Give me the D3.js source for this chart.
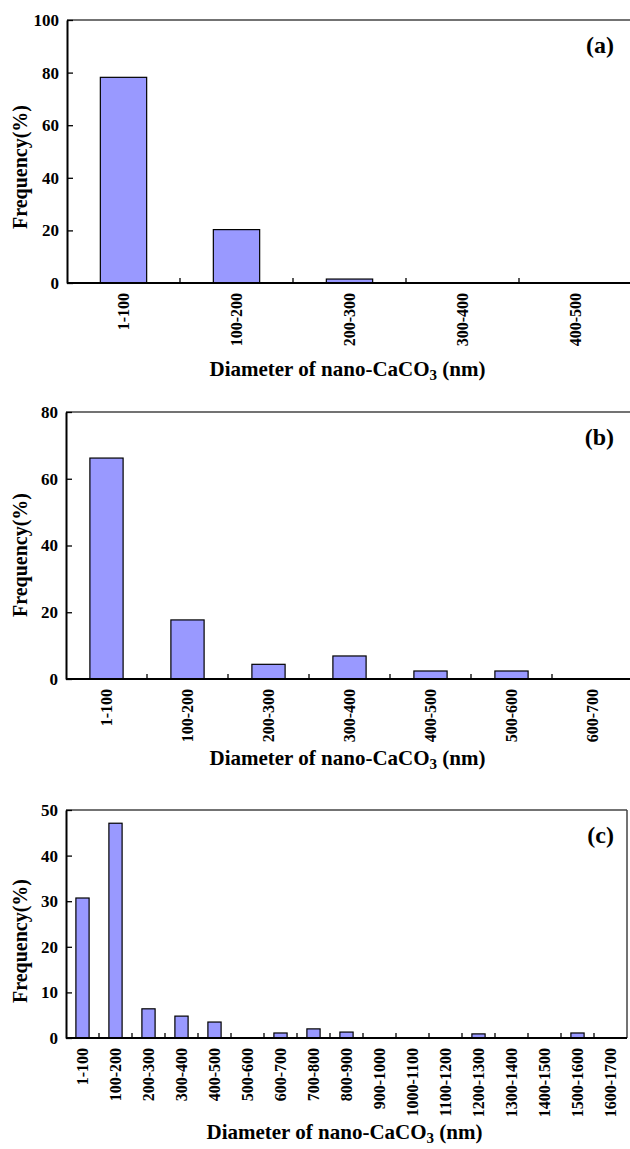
<!DOCTYPE html>
<html>
<head>
<meta charset="utf-8">
<script src="https://cdn.jsdelivr.net/npm/d3@7/dist/d3.min.js"></script>
<style>
  html, body { margin: 0; padding: 0; background: #fff; }
  svg { display: block; }
  text { font-family: "Liberation Serif", "Times New Roman", serif; font-weight: bold; fill: #000; }
</style>
</head>
<body>
<svg id="chart" width="630" height="1149"></svg>
<script>
// ---- Data ----
const categoriesA = ["1-100", "100-200", "200-300", "300-400", "400-500"];
const valuesA = [78.2, 20.3, 1.5, 0, 0];
const yTicksA = [0, 20, 40, 60, 80, 100];

const categoriesB = ["1-100", "100-200", "200-300", "300-400", "400-500", "500-600", "600-700"];
const valuesB = [66.2, 17.7, 4.4, 6.9, 2.4, 2.4, 0];
const yTicksB = [0, 20, 40, 60, 80];

const categoriesC = ["1-100", "100-200", "200-300", "300-400", "400-500", "500-600", "600-700",
  "700-800", "800-900", "900-1000", "1000-1100", "1100-1200", "1200-1300", "1300-1400",
  "1400-1500", "1500-1600", "1600-1700"];
const valuesC = [30.7, 47.1, 6.4, 4.8, 3.5, 0, 1.1, 2.0, 1.3, 0, 0, 0, 0.9, 0, 0, 1.1, 0];
const yTicksC = [0, 10, 20, 30, 40, 50];

const panelLabels = ["(a)", "(b)", "(c)"];
const xTitle = "Diameter of nano-CaCO";
const yTitle = "Frequency(%)";

// ---- Layout ----
const panels = [
  { cats: categoriesA, vals: valuesA, ticks: yTicksA, label: panelLabels[0],
    left: 67, right: 632, top: 20, bottom: 283, barRatio: 0.41, yTitleY: 167, xTitleY: 376 },
  { cats: categoriesB, vals: valuesB, ticks: yTicksB, label: panelLabels[1],
    left: 66, right: 633, top: 412, bottom: 679, barRatio: 0.41, yTitleY: 555, xTitleY: 765 },
  { cats: categoriesC, vals: valuesC, ticks: yTicksC, label: panelLabels[2],
    left: 66, right: 627, top: 810, bottom: 1038, barRatio: 0.40, yTitleY: 941, xTitleY: 1139 }
];

const svg = d3.select("#chart");

panels.forEach(p => {
  const g = svg.append("g");
  const x = d3.scaleBand().domain(p.cats).range([p.left, p.right]).padding(0);
  const y = d3.scaleLinear().domain([0, d3.max(p.ticks)]).range([p.bottom, p.top]);

  // frame (top & right)
  g.append("line").attr("x1", p.left).attr("x2", p.right).attr("y1", p.top).attr("y2", p.top)
    .attr("stroke", "#444").attr("stroke-width", 1.5);
  g.append("line").attr("x1", p.right).attr("x2", p.right).attr("y1", p.top).attr("y2", p.bottom)
    .attr("stroke", "#444").attr("stroke-width", 1.5);

  // bars
  const data = p.cats.map((c, i) => ({ c, v: p.vals[i] })).filter(d => d.v > 0);
  const bw = x.bandwidth() * p.barRatio;
  g.selectAll("rect.bar").data(data).enter().append("rect")
    .attr("class", "bar")
    .attr("x", d => x(d.c) + (x.bandwidth() - bw) / 2)
    .attr("width", bw)
    .attr("y", d => y(d.v))
    .attr("height", d => y(0) - y(d.v))
    .attr("fill", "#9999FF")
    .attr("stroke", "#000")
    .attr("stroke-width", 1.2);

  // y axis
  const yAxis = d3.axisLeft(y).tickValues(p.ticks).tickSizeInner(-6).tickSizeOuter(0).tickPadding(8)
    .tickFormat(d3.format("d"));
  const ya = g.append("g").attr("transform", `translate(${p.left},0)`).call(yAxis);
  ya.select(".domain").attr("stroke", "#000").attr("stroke-width", 2);
  ya.selectAll(".tick line").attr("stroke", "#000").attr("stroke-width", 1.3);
  ya.selectAll(".tick text").attr("font-size", 17).attr("font-family", "Liberation Serif")
    .attr("font-weight", "bold").attr("fill", "#000");

  // x axis line
  g.append("line").attr("x1", p.left).attr("x2", p.right).attr("y1", p.bottom).attr("y2", p.bottom)
    .attr("stroke", "#000").attr("stroke-width", 2);

  // x tick marks at category boundaries
  g.selectAll("line.xt").data(p.cats.slice(1)).enter().append("line")
    .attr("class", "xt")
    .attr("x1", d => x(d)).attr("x2", d => x(d))
    .attr("y1", p.bottom).attr("y2", p.bottom - 5)
    .attr("stroke", "#000").attr("stroke-width", 1.3);

  // x labels, rotated
  g.selectAll("text.xl").data(p.cats).enter().append("text")
    .attr("class", "xl")
    .attr("transform", d => `translate(${x(d) + x.bandwidth() / 2},${p.bottom + 10}) rotate(-90)`)
    .attr("text-anchor", "end")
    .attr("dominant-baseline", "central")
    .attr("font-size", 16)
    .text(d => d);

  // x title
  const xt = g.append("text")
    .attr("x", (p.left + p.right) / 2 - 2)
    .attr("y", p.xTitleY)
    .attr("text-anchor", "middle")
    .attr("font-size", 21);
  xt.append("tspan").text(xTitle);
  xt.append("tspan").attr("font-size", 15).attr("dy", 4).text("3");
  xt.append("tspan").attr("dy", -4).text(" (nm)");

  // y title
  g.append("text")
    .attr("transform", `translate(20,${p.yTitleY}) rotate(-90)`)
    .attr("text-anchor", "middle")
    .attr("dominant-baseline", "central")
    .attr("font-size", 20)
    .text(yTitle);

  // panel label
  g.append("text")
    .attr("x", 614)
    .attr("y", p.top + 33)
    .attr("text-anchor", "end")
    .attr("font-size", 24)
    .text(p.label);
});
</script>
</body>
</html>
